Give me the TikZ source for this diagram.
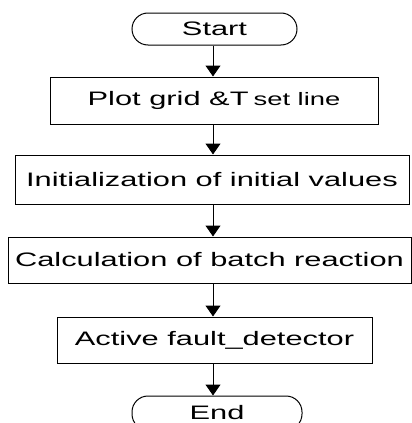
\documentclass[tikz,border=0pt]{standalone}
\usepackage{fontspec}
\setmainfont{Liberation Sans}
\usetikzlibrary{arrows.meta}
\newcommand{\wide}[1]{\scalebox{1.58}[1]{#1}}
\tikzset{
  box/.style={draw, line width=1pt, inner sep=0pt, anchor=center,
    font=\fontsize{19.5}{22}\selectfont},
  terminal/.style={box, rounded corners=16pt},
  arr/.style={line width=1pt, -{Triangle[width=15pt,length=11pt]}}
}
\begin{document}
\begin{tikzpicture}[x=1pt,y=-1pt]
  \useasboundingbox (0,0) rectangle (412,423);
  \clip (0,0) rectangle (412,423);
  \coordinate (axis) at (213,0);
  \node[terminal, minimum width=165pt, minimum height=32pt] (start) at (214.5,29) {\wide{Start}};
  \node[box, minimum width=328pt, minimum height=47pt] (plot) at (214,100.5)
    {\wide{Plot grid \&T}\hspace{5pt}\scalebox{1.52}[1]{\fontsize{18}{20}\selectfont set line}};
  \node[box, minimum width=394pt, minimum height=49pt] (init) at (212,179.5)
    {\wide{Initialization of initial values}};
  \node[box, minimum width=403pt, minimum height=46pt] (calc) at (209.5,260)
    {\wide{Calculation of batch reaction}};
  \node[box, minimum width=315pt, minimum height=46pt] (fault) at (214.5,340)
    {\wide{Active fault\_detector}};
  \node[terminal, minimum width=170pt, minimum height=34pt] (end) at (217,413) {\wide{End}};
  \draw[arr] (axis |- start.south) -- (axis |- plot.north);
  \draw[arr] (axis |- plot.south) -- (axis |- init.north);
  \draw[arr] (axis |- init.south) -- (axis |- calc.north);
  \draw[arr] (axis |- calc.south) -- (axis |- fault.north);
  \draw[arr] (axis |- fault.south) -- (axis |- end.north);
\end{tikzpicture}
\end{document}
